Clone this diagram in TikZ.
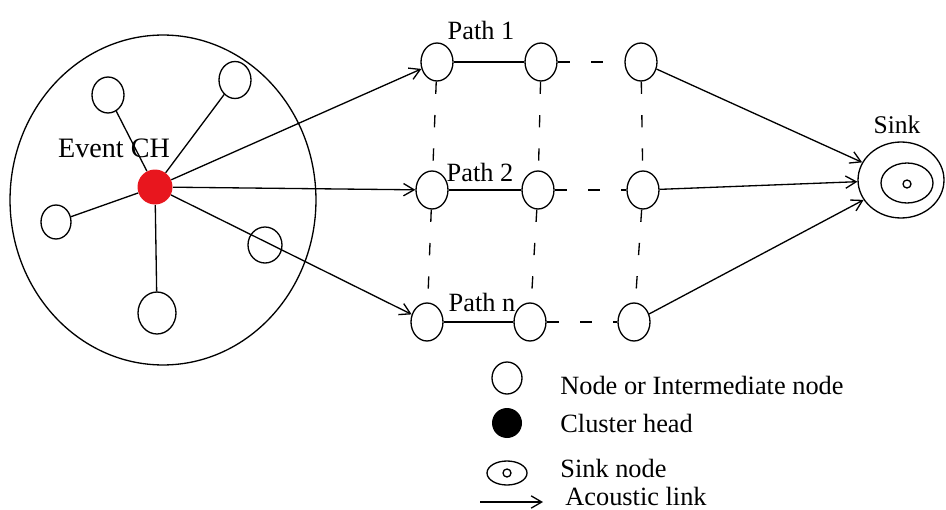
\documentclass[tikz,border=0pt]{standalone}
\usepackage{fontspec}
\setmainfont{Liberation Serif}
\usetikzlibrary{shapes.geometric, arrows.meta}

\definecolor{headred}{RGB}{232,22,30}

\tikzset{
    member/.style={ellipse, draw, line width=0.75pt, inner sep=0pt, minimum width=0.64cm, minimum height=0.72cm},
    relay/.style={ellipse, draw, line width=0.75pt, inner sep=0pt, minimum width=0.64cm, minimum height=0.76cm},
    head/.style={circle, fill=headred, inner sep=0pt, minimum size=0.7cm},
    link/.style={line width=0.75pt},
    acoustic/.style={-{Straight Barb[length=6pt,width=7pt]}, line width=0.75pt},
    spare/.style={line width=0.75pt, dash pattern=on 7pt off 12pt},
    tag/.style={inner sep=0pt, font=\fontsize{15}{17}\selectfont}
}

\begin{document}
\begin{tikzpicture}[x=0.02cm, y=-0.02cm]
\useasboundingbox (0,0) rectangle (946,510);

% Cluster boundary and its head
\node[ellipse, draw, line width=0.75pt, minimum width=6.12cm, minimum height=6.6cm] (cluster) at (163,200) {};
\node[head] (ch) at (155,187) {};
\node[tag, font=\fontsize{16}{18}\selectfont] (ch-label) at (114,148) {Event CH};

% Cluster members
\node[member] (m-1) at (108,95) {};
\node[member, minimum height=0.74cm] (m-2) at (235,80) {};
\node[member, minimum width=0.6cm, minimum height=0.68cm] (m-3) at (56,222) {};
\node[member, minimum width=0.68cm] (m-4) at (265,245) {};
\node[member, minimum width=0.76cm, minimum height=0.84cm] (m-5) at (157,313) {};
\foreach \m in {1,2,3,5} {
    \draw[link] (ch) -- (m-\m);
}

% Relay nodes, one row per path
\foreach \row/\y/\xa/\xb/\xc in {1/62/437/541/641, 2/190/432/538/643, 3/322/427/530/634} {
    \node[relay] (path-\row-1) at (\xa,\y) {};
    \node[relay] (path-\row-2) at (\xb,\y) {};
    \node[relay] (path-\row-3) at (\xc,\y) {};
    \draw[link] (path-\row-1) -- (path-\row-2);
    \draw[spare] (path-\row-2) -- (path-\row-3);
}

% Vertical dashed links between rows
\foreach \col in {1,2,3} {
    \draw[spare] (path-1-\col) -- (path-2-\col);
    \draw[spare] (path-2-\col) -- (path-3-\col);
}

% Path labels
\node[tag] (path-1-label) at (481,30) {Path 1};
\node[tag] (path-2-label) at (480,172) {Path 2};
\node[tag] (path-3-label) at (482,302) {Path n};

% Sink
\node[ellipse, draw, line width=0.75pt, minimum width=1.72cm, minimum height=1.52cm] (sink) at (901,180) {};
\node[ellipse, draw, line width=0.75pt, minimum width=1.04cm, minimum height=0.8cm] (sink-in) at (907,183) {};
\node[circle, draw, line width=0.75pt, minimum size=0.16cm, inner sep=0pt] (sink-dot) at (907,184) {};
\node[tag, font=\fontsize{14.5}{17}\selectfont] (sink-label) at (897,125) {Sink};

% Acoustic links from the cluster head and into the sink
\foreach \row in {1,2,3} {
    \draw[acoustic] (ch) -- (path-\row-1);
    \draw[acoustic] (path-\row-3) -- (sink);
}

% Legend
\node[member, minimum width=0.6cm, minimum height=0.64cm] (key-node) at (507,378) {};
\node[circle, fill=black, inner sep=0pt, minimum size=0.6cm] (key-head) at (507,423) {};
\node[ellipse, draw, line width=0.75pt, minimum width=0.8cm, minimum height=0.48cm] (key-sink) at (507,473) {};
\node[circle, draw, line width=0.75pt, minimum size=0.16cm, inner sep=0pt] (key-dot) at (507,473) {};
\coordinate (key-a) at (480,502);
\coordinate (key-b) at (543,502);
\draw[acoustic] (key-a) -- (key-b);

\node[tag, anchor=west] (key-node-text) at (560,385) {Node or Intermediate node};
\node[tag, anchor=west] (key-head-text) at (560,423) {Cluster head};
\node[tag, anchor=west] (key-sink-text) at (560,468) {Sink node};
\node[tag, anchor=west] (key-link-text) at (565,496) {Acoustic link};

\end{tikzpicture}
\end{document}
